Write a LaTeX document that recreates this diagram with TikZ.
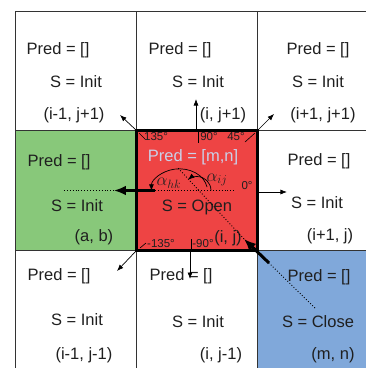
\documentclass[tikz,border=0pt]{standalone}
\usepackage{fontspec}
\setmainfont{Liberation Sans}
\usetikzlibrary{arrows.meta}
\definecolor{cellred}{RGB}{238,68,68}
\definecolor{cellgreen}{RGB}{136,200,122}
\definecolor{cellblue}{RGB}{128,168,218}
\definecolor{predtxt}{RGB}{202,208,232}
\begin{document}
\begin{tikzpicture}[x=1pt, y=-1pt,
  lbl/.style={font=\fontsize{16.5}{16.5}\selectfont, text=black!88, inner sep=0pt},
  deg/.style={font=\fontsize{11.5}{11.5}\selectfont, text=black!88, inner sep=0pt},
  ang/.style={font=\fontsize{17}{17}\selectfont, text=black!88, inner sep=0pt},
  dir/.style={->, >={Latex[length=6.5pt,width=5pt]}, line width=0.7pt},
  thickdir/.style={->, >={Latex[length=12pt,width=10pt]}, line width=3pt}]

  % grid lines
  \def\xa{15.5}
  \def\xb{136.5}
  \def\xc{257.5}
  \def\ya{11.5}
  \def\yb{130.5}
  \def\yc{250.5}

  \useasboundingbox (0,0) rectangle (366,368);
  \clip (0,0) rectangle (366,368);

  % coloured cells
  \fill[cellgreen] (\xa,\yb) rectangle (\xb,\yc);
  \fill[cellblue] (\xc,\yc) rectangle (380,380);
  \fill[cellred] (\xb,\yb) rectangle (\xc,\yc);

  % grid
  \foreach \x in {\xa,\xb,\xc}
  \draw[line width=0.8pt, black!80] (\x,\ya) -- (\x,380);
  \foreach \y in {\ya,\yb,\yc}
  \draw[line width=0.8pt, black!80] (\xa,\y) -- (380,\y);

  % cell texts
  \node[lbl] (p-tl) at (58,50) {Pred = []};
  \node[lbl] (s-tl) at (76,82) {S = Init};
  \node[lbl] (c-tl) at (74,115) {(i-1, j+1)};
  \node[lbl] (p-tm) at (180,50) {Pred = []};
  \node[lbl] (s-tm) at (198,82) {S = Init};
  \node[lbl] (c-tm) at (223,115) {(i, j+1)};
  \node[lbl] (p-tr) at (318,50) {Pred = []};
  \node[lbl] (s-tr) at (318,82) {S = Init};
  \node[lbl] (c-tr) at (323,115) {(i+1, j+1)};

  \node[lbl] (p-ml) at (59,162) {Pred = []};
  \node[lbl] (s-ml) at (77,206) {S = Init};
  \node[lbl] (c-ml) at (94,237) {(a, b)};
  \node[lbl, text=predtxt] (p-mm) at (193,157.5) {Pred = [m,n]};
  \node[lbl] (s-mm) at (197,207) {S = Open};
  \node[lbl] (c-mm) at (228,238) {(i, j)};
  \node[lbl] (p-mr) at (319,161) {Pred = []};
  \node[lbl] (s-mr) at (317,203) {S = Init};
  \node[lbl] (c-mr) at (330,236) {(i+1, j)};

  \node[lbl] (p-bl) at (59,276) {Pred = []};
  \node[lbl] (s-bl) at (77,320) {S = Init};
  \node[lbl] (c-bl) at (84,355) {(i-1, j-1)};
  \node[lbl] (p-bm) at (181,276) {Pred = []};
  \node[lbl] (s-bm) at (198,322) {S = Init};
  \node[lbl] (c-bm) at (221,355) {(i, j-1)};
  \node[lbl] (p-br) at (319,277) {Pred = []};
  \node[lbl] (s-br) at (318,322) {S = Close};
  \node[lbl] (c-br) at (333,355) {(m, n)};

  % direction labels
  \node[deg] (d135) at (156,137) {135°};
  \node[deg] (d90) at (209,137) {90°};
  \node[deg] (d45) at (236,137) {45°};
  \node[deg] (d0) at (247,186) {0°};
  \node[deg] (dm135) at (161,244) {-135°};
  \node[deg] (dm90) at (203,244) {-90°};
  \draw[line width=0.6pt] (139,133) -- (145,139);
  \draw[line width=0.6pt] (198,132) -- (198,143);
  \draw[line width=0.6pt] (245,142) -- (255,133);
  \draw[line width=0.6pt] (140,248) -- (146,243);
  \draw[line width=0.6pt] (191,239) -- (191,249);

  % neighbour directions
  \coordinate (o-tl) at (\xb,\yb);
  \coordinate (o-tm) at (196,\yb);
  \coordinate (o-tr) at (\xc,\yb);
  \coordinate (o-mr) at (\xc,192);
  \coordinate (o-bl) at (\xb,\yc);
  \coordinate (o-bm) at (190,\yc);
  \coordinate (e-tl) at (120,115);
  \coordinate (e-tm) at (196,99);
  \coordinate (e-tr) at (274,114);
  \coordinate (e-mr) at (287,192);
  \coordinate (e-bl) at (117,271);
  \coordinate (e-bm) at (190,279);
  \foreach \n in {tl,tm,tr,mr,bl,bm}
  \draw[dir] (o-\n) -- (e-\n);

  % centre, parent and predecessor
  \coordinate (hk-a) at (155,190.5);
  \coordinate (hk-b) at (114,190.5);
  \coordinate (hk-c) at (64,190.5);
  \coordinate (ij-a) at (236,190.5);
  \coordinate (mn-a) at (315,308);
  \coordinate (mn-b) at (269,263);
  \coordinate (mn-c) at (244,239);
  \coordinate (mn-d) at (178,168);
  \draw[line width=0.9pt, dotted] (hk-c) -- (hk-b);
  \draw[line width=0.9pt, dotted] (hk-a) -- (ij-a);
  \draw[thickdir] (hk-a) -- (hk-b);
  \draw[line width=0.9pt, dotted] (mn-a) -- (mn-b);
  \draw[line width=0.9pt, dotted] (mn-c) -- (mn-d);
  \draw[thickdir] (mn-b) -- (mn-c);

  % angles
  \draw[dir] (207,187) arc[start angle=-10, end angle=-180, x radius=28, y radius=22];
  \draw[dir] (211,190.5) arc[start angle=0, end angle=-130, radius=14];
  \node[ang] (a-hk) at (169,183) {$\alpha_{hk}$};
  \node[ang] (a-ij) at (217,180) {$\alpha_{ij}$};

  % open cell border
  \draw[line width=3.8pt] (\xb,\yb) rectangle (\xc,\yc);

\end{tikzpicture}
\end{document}
